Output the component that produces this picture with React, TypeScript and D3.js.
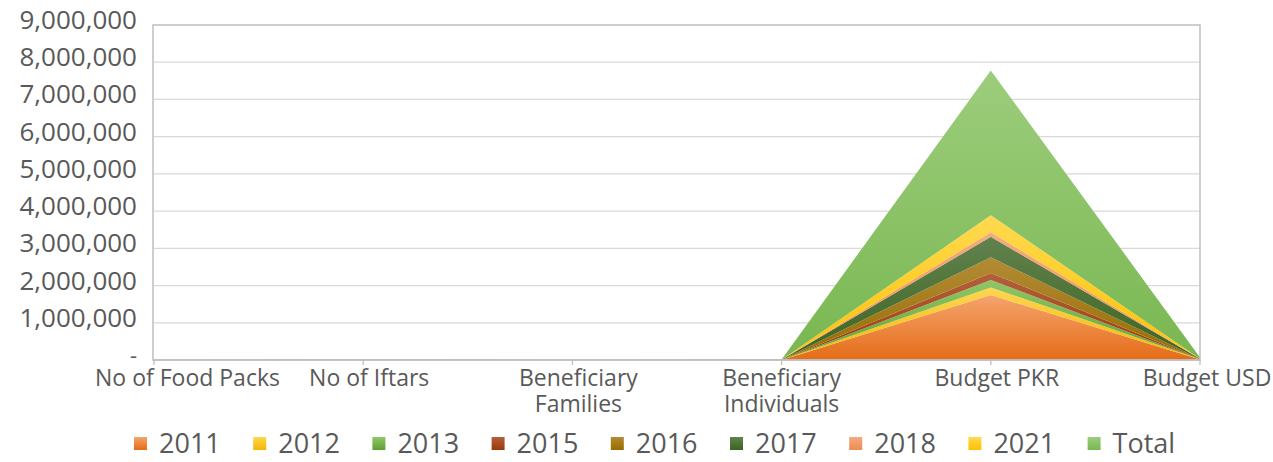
import React from "react";
import * as d3 from "d3";

const categories = [
  "No of Food Packs",
  "No of Iftars",
  "Beneficiary Families",
  "Beneficiary Individuals",
  "Budget PKR",
  "Budget USD",
];

const seriesNames = ["2011", "2012", "2013", "2015", "2016", "2017", "2018", "2021", "Total"];

const v2011 = [350, 0, 350, 500, 1745000, 16000];
const v2012 = [400, 0, 400, 600, 205000, 2000];
const v2013 = [420, 0, 420, 600, 200000, 2000];
const v2015 = [300, 1200, 300, 450, 190000, 1800];
const v2016 = [700, 1500, 700, 1000, 420000, 4000];
const v2017 = [900, 2000, 900, 1300, 550000, 5000];
const v2018 = [200, 500, 200, 300, 120000, 700];
const v2021 = [800, 0, 800, 1200, 460000, 2800];
const vTotal = [4070, 5200, 4070, 5950, 3890000, 34300];

const yTicks = [0, 1000000, 2000000, 3000000, 4000000, 5000000, 6000000, 7000000, 8000000, 9000000];

const colorTop = ["#F5A46E", "#FFD650", "#8FC765", "#B3603E", "#B38B34", "#62824E", "#F5AA80", "#FFDA50", "#9DCD7C"];
const colorBottom = ["#E46C17", "#F4B600", "#5F9F36", "#9A3A08", "#976C00", "#3A6420", "#EE8C52", "#FFC000", "#79B751"];

const seriesValues = [v2011, v2012, v2013, v2015, v2016, v2017, v2018, v2021, vTotal];

export default function App() {
  const W = 1273;
  const H = 462;
  const left = 154;
  const right = 1200;
  const top = 25;
  const bottom = 360;

  const rows = categories.map((c, i) => {
    const r: any = { cat: c };
    seriesNames.forEach((s, j) => (r[s] = seriesValues[j][i]));
    return r;
  });

  const stack = d3.stack().keys(seriesNames);
  const layers = stack(rows as any);

  const x = d3.scalePoint<string>().domain(categories).range([left, right]);
  const y = d3.scaleLinear().domain([0, 9000000]).range([bottom, top]);

  const area = d3
    .area<any>()
    .x((d) => x(d.data.cat) as number)
    .y0((d) => y(d[0]))
    .y1((d) => y(d[1]));

  const fmt = (v: number) => (v === 0 ? "-" : d3.format(",")(v));
  const font = "'Open Sans', sans-serif";
  const textColor = "#595959";

  return (
    <svg width={W} height={H} style={{ position: "absolute", left: 0, top: 0 }}>
      <defs>
        {seriesNames.map((s, i) => (
          <linearGradient key={s} id={`g${i}`} x1="0" y1="0" x2="0" y2="1">
            <stop offset="0" stopColor={colorTop[i]} />
            <stop offset="1" stopColor={colorBottom[i]} />
          </linearGradient>
        ))}
      </defs>
      <rect width={W} height={H} fill="#fff" />
      {yTicks.slice(1, -1).map((t) => (
        <line key={t} x1={left} x2={right} y1={y(t)} y2={y(t)} stroke="#D9D9D9" strokeWidth={1.3} />
      ))}
      {layers.map((l, i) => (
        <path key={seriesNames[i]} d={area(l as any) || ""} fill={`url(#g${i})`} />
      ))}
      <rect x={left - 1} y={top} width={right - left + 1} height={bottom - top} fill="none" stroke="#BFBFBF" strokeWidth={1.5} />
      <line x1={left - 1} x2={right} y1={bottom} y2={bottom} stroke="#BFBFBF" strokeWidth={1.5} />
      {categories.map((c) => (
        <line key={c} x1={x(c)} x2={x(c)} y1={bottom} y2={bottom + 5} stroke="#BFBFBF" strokeWidth={1.3} />
      ))}
      {yTicks.map((t) => (
        <text
          key={t}
          x={137}
          y={y(t) - 3}
          textAnchor="end"
          dominantBaseline="middle"
          fontFamily={font}
          fontSize={t === 0 ? 22 : 26}
          fill={textColor}
        >
          {fmt(t)}
        </text>
      ))}
      {categories.map((c, i) => {
        const words = c.split(" ");
        const lines = c.length > 16 && words.length === 2 ? words : [c];
        const cx = x(c) as number;
        const anchor = i === 0 ? "start" : "middle";
        const tx = i === 0 ? 95 : cx + (i === 5 ? 7 : i === 3 ? 0 : 6);
        return (
          <text key={c} x={tx} y={386} textAnchor={anchor} fontFamily={font} fontSize={23} fill={textColor}>
            {lines.map((ln, k) => (
              <tspan key={k} x={tx} dy={k === 0 ? 0 : 26}>
                {ln}
              </tspan>
            ))}
          </text>
        );
      })}
      {seriesNames.map((s, i) => {
        const lx = 134 + i * 119.2;
        return (
          <g key={s}>
            <rect x={lx} y={437} width={13} height={13} fill={`url(#g${i})`} />
            <text x={lx + 25} y={453} fontFamily={font} fontSize={27} fill={textColor}>
              {s}
            </text>
          </g>
        );
      })}
    </svg>
  );
}
